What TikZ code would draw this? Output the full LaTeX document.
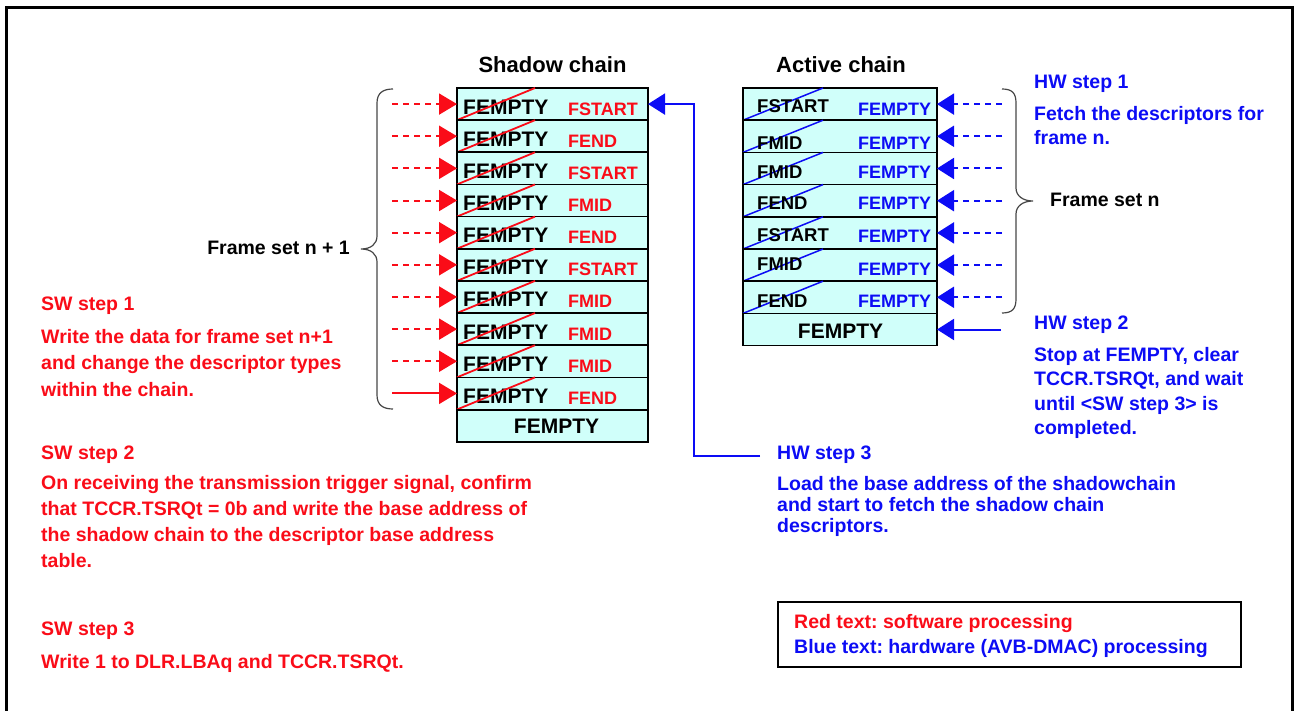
\documentclass[tikz,border=0pt]{standalone}
\usepackage{fontspec}
\setmainfont{Liberation Sans}
\usetikzlibrary{arrows.meta}
\definecolor{swred}{RGB}{250,12,24}
\definecolor{hwblue}{RGB}{12,12,245}
\definecolor{cellfill}{RGB}{208,255,250}
\definecolor{bracegray}{RGB}{70,70,70}
\frenchspacing
\begin{document}
\begin{tikzpicture}[x=1pt,y=-1pt,
  srow/.style={draw=black, line width=1.6pt, fill=cellfill, minimum width=191pt, minimum height=32.15pt, inner sep=0pt, outer sep=0pt},
  arow/.style={draw=black, line width=1.6pt, fill=cellfill, minimum width=194pt, minimum height=32.2pt, inner sep=0pt, outer sep=0pt},
  cellblack/.style={anchor=base west, inner sep=0pt, text=black, font=\fontsize{21}{24}\selectfont\bfseries},
  cellblacks/.style={anchor=base west, inner sep=0pt, text=black, font=\fontsize{18.5}{22}\selectfont\bfseries},
  cellred/.style={anchor=base west, inner sep=0pt, text=swred, font=\fontsize{18}{22}\selectfont\bfseries},
  cellblue/.style={anchor=base west, inner sep=0pt, text=hwblue, font=\fontsize{18}{22}\selectfont\bfseries},
  heading/.style={anchor=base, inner sep=0pt, font=\fontsize{22}{26}\selectfont\bfseries},
  body/.style={anchor=base west, inner sep=0pt, align=left, font=\fontsize{19.5}{25.7}\selectfont\bfseries},
  redstrike/.style={draw=swred, line width=1.8pt},
  bluestrike/.style={draw=hwblue, line width=1.5pt},
  redarrow/.style={draw=swred, color=swred, line width=2pt, -{Triangle[length=18pt,width=21pt]}},
  bluearrow/.style={draw=hwblue, color=hwblue, line width=2pt, -{Triangle[length=17pt,width=21pt]}},
  dashes/.style={dash pattern=on 6pt off 5pt},
  bracestyle/.style={draw=bracegray, line width=1.2pt}
]
\useasboundingbox (0,0) rectangle (1301,711);
% outer frame
\draw[line width=3pt] (6,730) -- (6,7.5) -- (1292,7.5) -- (1292,730);

% headings
\node[heading] (hshadow) at (552.5,73) {Shadow chain};
\node[heading] (hactive) at (841,73) {Active chain};

% shadow chain rows
\foreach \i/\lab in {1/FSTART,2/FEND,3/FSTART,4/FMID,5/FEND,6/FSTART,7/FMID,8/FMID,9/FMID,10/FEND} {
  \pgfmathsetmacro\yc{88+32.15*(\i-0.5)}
  \pgfmathsetmacro\yb{\yc+10}
  \pgfmathsetmacro\yr{\yc+11}
  \node[srow] (s\i) at (552.5,\yc) {};
  \node[cellblack] (sf\i) at (463,\yb) {FEMPTY};
  \node[cellred] (sl\i) at (568,\yr) {\lab};
  \draw[redstrike] (s\i.south west) -- ([xshift=78pt]s\i.north west);
  \coordinate (sa\i) at (392,\yc);
}
\node[srow] (s11) at (552.5,425.8) {};
\node[cellblack, anchor=base] (sf11) at (556.5,433) {FEMPTY};

% red arrows
\foreach \i in {1,...,9} {
  \draw[redarrow, dashes] (sa\i) -- (s\i.west);
}
\draw[redarrow] (sa10) -- (s10.west);

% active chain rows
\foreach \i/\lab/\yb/\yr in {1/FSTART/113/116,2/FMID/150/150,3/FMID/179/179,4/FEND/210/210,5/FSTART/242/243,6/FMID/271/276,7/FEND/308/308} {
  \pgfmathsetmacro\yc{88+32.2*(\i-0.5)}
  \node[arow] (a\i) at (840,\yc) {};
  \draw[bluestrike] (a\i.south west) -- ([xshift=80pt]a\i.north west);
  \node[cellblacks] (al\i) at (757,\yb) {\lab};
  \node[cellblue] (ab\i) at (858,\yr) {FEMPTY};
  \coordinate (aa\i) at (1002,\yc);
}
\node[arow] (a8) at (840,329.5) {};
\node[cellblack, anchor=base] (al8) at (840.5,338.5) {FEMPTY};

\foreach \i in {1,...,7} {
  \draw[bluearrow, dashes] (aa\i) -- (a\i.east);
}
\coordinate (aa8) at (1001,329.5);
\draw[bluearrow] (aa8) -- (a8.east);

% HW step 3 connector
\coordinate (hw3end) at (760,456);
\coordinate (hw3bend) at (694,456);
\draw[bluearrow] (hw3end) -- (hw3bend) |- (s1.east);

% braces
\draw[bracestyle] (393,89) .. controls (383,89) and (377,93) .. (377,103) -- (377,236)
  .. controls (377,244) and (371,249) .. (361,249)
  .. controls (371,249) and (377,254) .. (377,262) -- (377,395)
  .. controls (377,405) and (383,409) .. (393,409);
\draw[bracestyle] (1002,89) .. controls (1012,89) and (1016,93) .. (1016,103) -- (1016,188)
  .. controls (1016,196) and (1023,201) .. (1033,201)
  .. controls (1023,201) and (1016,206) .. (1016,214) -- (1016,299)
  .. controls (1016,309) and (1012,313) .. (1002,313);

\node[body, anchor=base east] (fsn1) at (350,255) {Frame set n + 1};
\node[body] (fsn) at (1050,207) {Frame set n};

% SW texts (multi-line nodes: base = last line's baseline)
\node[body, text=swred] (sw1t) at (41,311) {SW step 1};
\node[body, text=swred, font=\fontsize{19.5}{26.5}\selectfont\bfseries] (sw1b) at (41,396) {Write the data for frame set n+1\\and change the descriptor types\\within the chain.};
\node[body, text=swred] (sw2t) at (41,459) {SW step 2};
\node[body, text=swred] (sw2b) at (41,567) {On receiving the transmission trigger signal, confirm\\that TCCR.TSRQt = 0b and write the base address of\\the shadow chain to the descriptor base address\\table.};
\node[body, text=swred] (sw3t) at (41,635) {SW step 3};
\node[body, text=swred] (sw3b) at (41,668) {Write 1 to DLR.LBAq and TCCR.TSRQt.};

% HW texts
\node[body, text=hwblue] (hw1t) at (1034,89) {HW step 1};
\node[body, text=hwblue, font=\fontsize{19.5}{24}\selectfont\bfseries] (hw1b) at (1034,145) {Fetch the descriptors for\\frame n.};
\node[body, text=hwblue] (hw2t) at (1034,330) {HW step 2};
\node[body, text=hwblue, font=\fontsize{19.5}{24.5}\selectfont\bfseries] (hw2b) at (1034,434.5) {Stop at FEMPTY, clear\\TCCR.TSRQt, and wait\\until <SW step 3> is\\completed.};
\node[body, text=hwblue] (hw3t) at (777,459) {HW step 3};
\node[body, text=hwblue, font=\fontsize{19.5}{21}\selectfont\bfseries] (hw3b) at (777,532) {Load the base address of the shadowchain\\and start to fetch the shadow chain\\descriptors.};

% legend
\node[draw=black, line width=1.8pt, minimum width=463pt, minimum height=65pt, inner sep=0pt, anchor=north west] (legend) at (777,601) {};
\node[body, text=swred] (legr) at (794,628) {Red text: software processing};
\node[body, text=hwblue] (legb) at (794,653) {Blue text: hardware (AVB-DMAC) processing};
\end{tikzpicture}
\end{document}
